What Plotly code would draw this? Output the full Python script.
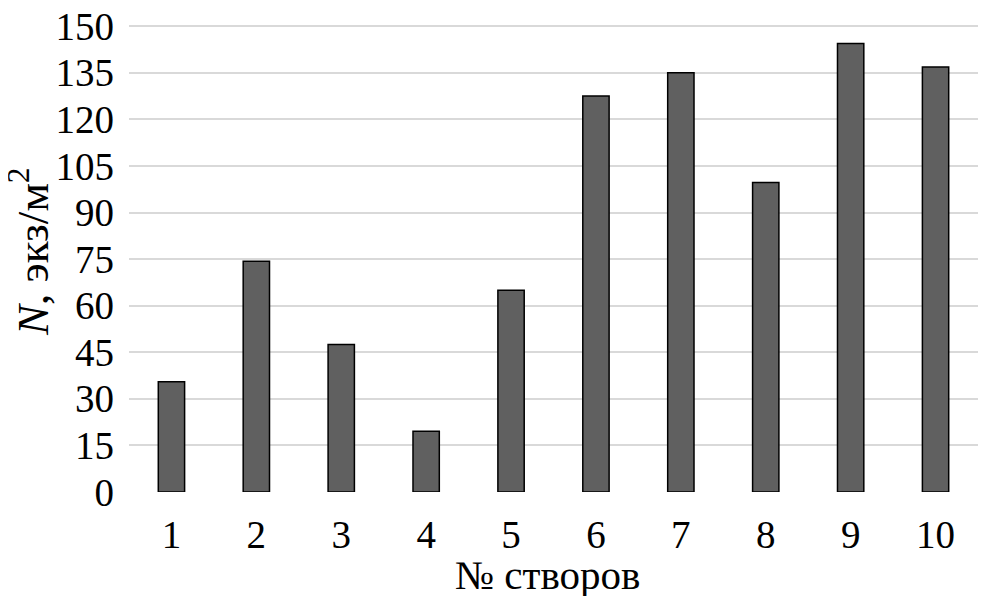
import plotly.graph_objects as go

categories = ["1", "2", "3", "4", "5", "6", "7", "8", "9", "10"]
values = [35.5, 74.3, 47.5, 19.6, 65, 127.5, 135, 99.7, 144.4, 136.9]
y_ticks = [0, 15, 30, 45, 60, 75, 90, 105, 120, 135, 150]
x_title = "№ створов"
y_title = "<i>N</i>, экз/м<sup>2</sup>"

fig = go.Figure(go.Bar(
    x=categories, y=values,
    marker=dict(color="#606060", line=dict(color="#000000", width=1.5)),
))

# page body has an 8px margin, so the figure is 8px smaller than the window
fig.update_layout(
    width=979, height=588,
    margin=dict(l=121, r=9, t=12, b=104, autoexpand=False),
    paper_bgcolor="white", plot_bgcolor="white",
    font=dict(family="Liberation Serif, Times New Roman, serif", size=39, color="#000000"),
    bargap=0.69,
    showlegend=False,
    xaxis=dict(
        showgrid=False, showline=False, zeroline=False, automargin=False,
        ticklabelstandoff=16,
    ),
    yaxis=dict(
        range=[0, 152], tickvals=y_ticks, automargin=False,
        ticklabeloverflow="allow",
        showgrid=True, gridcolor="#d9d9d9", gridwidth=2,
        zeroline=False, showline=False,
        ticklabelstandoff=14,
    ),
    annotations=[
        dict(text=x_title, xref="paper", yref="paper", x=0.4935, y=0,
             yshift=-83, xanchor="center", yanchor="middle", showarrow=False,
             font=dict(size=41)),
        dict(text=y_title, xref="paper", yref="paper", x=0, y=0.5, xshift=-100,
             yshift=4, xanchor="center", yanchor="middle", textangle=-90,
             showarrow=False, font=dict(size=45)),
    ],
)

fig.write_html("out.html")
